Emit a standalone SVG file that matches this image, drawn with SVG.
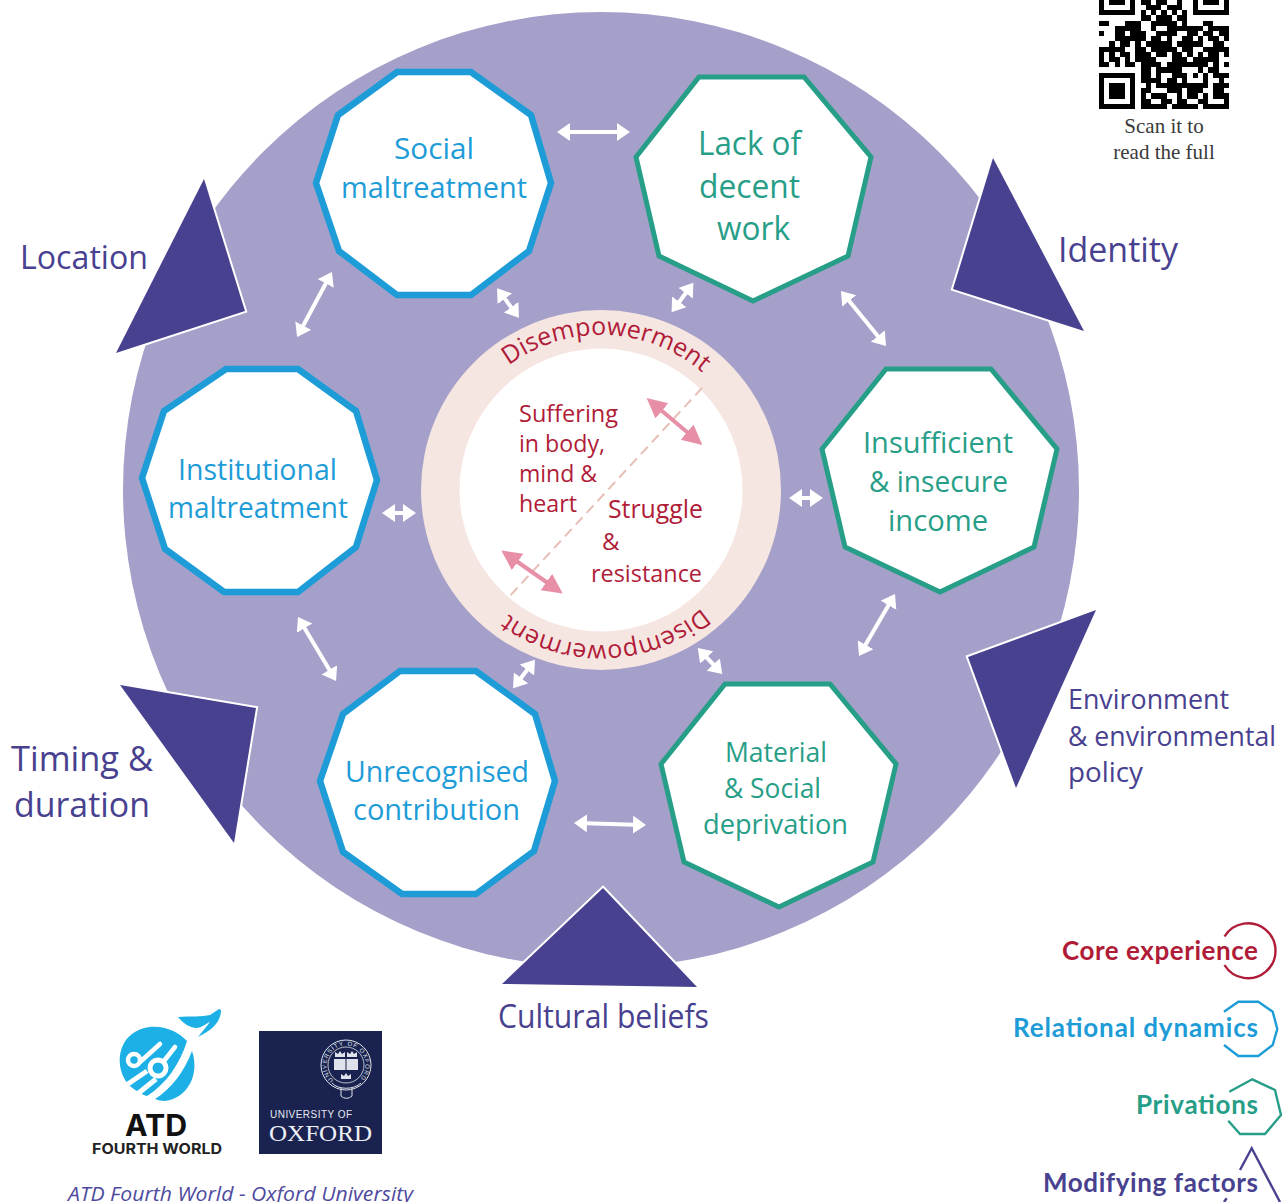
<svg xmlns="http://www.w3.org/2000/svg" width="1287" height="1202" viewBox="0 0 1287 1202">
<style>
text{font-family:"Open Sans","Noto Sans",sans-serif}
.soc{fill:#1e9cd8;font-size:30px}.grn{fill:#279e87}.pur{fill:#48418f}.red{fill:#b01c38}
.m{text-anchor:middle}
.dec{fill:#fff;stroke:#1e9cd8;stroke-width:6.5;stroke-linejoin:miter}
.hep{fill:#fff;stroke:#279e87;stroke-width:5;stroke-linejoin:miter}
.tri{fill:#48418f;stroke:#fff;stroke-width:4;paint-order:stroke}
.wa{fill:none;stroke:#fff;stroke-width:4;marker-start:url(#wh);marker-end:url(#wh)}
.pa{fill:none;stroke:#e88fa8;stroke-width:4;marker-start:url(#ph);marker-end:url(#ph)}
.leg{font-family:Lato,"Open Sans",sans-serif;font-weight:700;font-size:26px;text-anchor:end}
.leg.soc{font-size:26px}
.lo{fill:none;stroke-width:2.4}
</style>
<defs>
<marker id="wh" markerUnits="userSpaceOnUse" markerWidth="18" markerHeight="20" refX="9" refY="9" orient="auto-start-reverse"><path d="M0 0L13 9L0 18Z" fill="#fff"/></marker>
<marker id="ph" markerUnits="userSpaceOnUse" markerWidth="24" markerHeight="24" refX="13" refY="10" orient="auto-start-reverse"><path d="M0 0L20 10L0 20Z" fill="#e88fa8"/></marker>
<path id="t1" d="M508.800 365.400A155 155 0 0 1 728 401"/>
<path id="t2" d="M701.700 607.900A155 155 0 0 1 474 578.900"/>
<path id="crest" d="M333.500 1080A19.500 19.500 0 1 1 358.500 1080"/>
</defs>

<circle id="bg" cx="601" cy="490" r="478" fill="#a4a0c9"/>

<g id="modifiers">
<g id="location"><polygon class="tri" points="204,179 245,311 116,353"/><text class="pur" x="20" y="269" font-size="32" textLength="128" lengthAdjust="spacingAndGlyphs">Location</text></g>
<g id="identity"><polygon class="tri" points="993,158 1084,331 953,289"/><text class="pur" x="1058" y="262" font-size="34" textLength="120" lengthAdjust="spacingAndGlyphs">Identity</text></g>
<g id="environment"><polygon class="tri" points="1096,610 1016,788 968,657"/>
<text class="pur" x="1068" y="709" font-size="28" textLength="161" lengthAdjust="spacingAndGlyphs">Environment</text>
<text class="pur" x="1068" y="746" font-size="28" textLength="208" lengthAdjust="spacingAndGlyphs">&amp; environmental</text>
<text class="pur" x="1068" y="782" font-size="28" textLength="75" lengthAdjust="spacingAndGlyphs">policy</text></g>
<g id="timing"><polygon class="tri" points="120,685 256,708 234,843"/>
<text class="pur" x="11" y="771" font-size="35" textLength="142" lengthAdjust="spacingAndGlyphs">Timing &amp;</text>
<text class="pur" x="14" y="817" font-size="35" textLength="136" lengthAdjust="spacingAndGlyphs">duration</text></g>
<g id="cultural"><polygon class="tri" points="603,888 697,987 502,984"/><text class="pur" x="498" y="1028" font-size="32" textLength="211" lengthAdjust="spacingAndGlyphs">Cultural beliefs</text></g>
</g>

<g id="social"><polygon class="dec" points="397,72 471,72 531,115 551,183 529,251 471,295 397,295 339,251 316,183 338,115"/>
<text class="soc" x="394" y="159" textLength="80" lengthAdjust="spacingAndGlyphs">Social</text>
<text class="soc" x="341" y="198" textLength="186" lengthAdjust="spacingAndGlyphs">maltreatment</text></g>
<g id="institutional"><polygon class="dec" points="226,369 298,369 356,411 377,480 356,547 298,592 224,592 165,549 142,478 164,411"/>
<text class="soc" x="178" y="480" textLength="159" lengthAdjust="spacingAndGlyphs">Institutional</text>
<text class="soc" x="168" y="518" textLength="180" lengthAdjust="spacingAndGlyphs">maltreatment</text></g>
<g id="unrecognised"><polygon class="dec" points="400,671 476,671 535,714 555,781 534,851 476,894 402,894 343,852 320,781 343,714"/>
<text class="soc" x="345" y="782" textLength="184" lengthAdjust="spacingAndGlyphs">Unrecognised</text>
<text class="soc" x="353" y="820" textLength="167" lengthAdjust="spacingAndGlyphs">contribution</text></g>
<g id="lack"><polygon class="hep" points="699,77 804,77 871,157 848,256 753,301 659,256 636,157"/>
<text class="grn" x="698" y="155" font-size="33" textLength="103" lengthAdjust="spacingAndGlyphs">Lack of</text>
<text class="grn" x="699" y="198" font-size="33" textLength="101" lengthAdjust="spacingAndGlyphs">decent</text>
<text class="grn" x="717" y="240" font-size="33" textLength="73" lengthAdjust="spacingAndGlyphs">work</text></g>
<g id="insufficient"><polygon class="hep" points="886,369 991,369 1057,449 1034,547 940,592 845,547 822,449"/>
<text class="grn" x="863" y="453" font-size="30" textLength="150" lengthAdjust="spacingAndGlyphs">Insufficient</text>
<text class="grn" x="869" y="492" font-size="30" textLength="139" lengthAdjust="spacingAndGlyphs">&amp; insecure</text>
<text class="grn" x="888" y="531" font-size="30" textLength="100" lengthAdjust="spacingAndGlyphs">income</text></g>
<g id="material"><polygon class="hep" points="725,684 830,684 896,764 873,862 779,907 684,862 661,764"/>
<text class="grn" x="725" y="762" font-size="28" textLength="102" lengthAdjust="spacingAndGlyphs">Material</text>
<text class="grn" x="724" y="798" font-size="28" textLength="97" lengthAdjust="spacingAndGlyphs">&amp; Social</text>
<text class="grn" x="703" y="834" font-size="28" textLength="145" lengthAdjust="spacingAndGlyphs">deprivation</text></g>

<g id="core">
<circle cx="601" cy="490" r="180" fill="#f6e6e2"/>
<circle cx="601" cy="490" r="141.500" fill="#fff"/>
<text class="red" font-size="25"><textPath href="#t1">Disempowerment</textPath></text>
<text class="red" font-size="25"><textPath href="#t2">Disempowerment</textPath></text>
<text class="red" x="519" y="422" font-size="24" textLength="99" lengthAdjust="spacingAndGlyphs">Suffering</text>
<text class="red" x="519" y="452" font-size="24" textLength="86" lengthAdjust="spacingAndGlyphs">in body,</text>
<text class="red" x="519" y="482" font-size="24" textLength="78" lengthAdjust="spacingAndGlyphs">mind &amp;</text>
<text class="red" x="519" y="512" font-size="24" textLength="58" lengthAdjust="spacingAndGlyphs">heart</text>
<text class="red" x="608" y="518" font-size="25" textLength="95" lengthAdjust="spacingAndGlyphs">Struggle</text>
<text class="red" x="602" y="550" font-size="24">&amp;</text>
<text class="red" x="591" y="582" font-size="24" textLength="111" lengthAdjust="spacingAndGlyphs">resistance</text>
</g>

<g id="connectors">
<path d="M702 388L508 598" fill="none" stroke="#e6c0b6" stroke-width="2" stroke-dasharray="10 6"/>
<path class="pa" d="M652 402.500L697 440.500"/>
<path class="pa" d="M507 554.500L557 589.500"/>
<path class="wa" d="M561 132H626"/>
<path class="wa" d="M843.500 294L883.500 343"/>
<path class="wa" d="M793 498H819"/>
<path class="wa" d="M893 597.500L861 652.500"/>
<path class="wa" d="M642 825L578 823"/>
<path class="wa" d="M300 620.500L334 677.500"/>
<path class="wa" d="M412 513H386"/>
<path class="wa" d="M299 333.500L330 275.500"/>
<path class="wa" d="M499.500 291.500L516.500 314.500"/>
<path class="wa" d="M691 286L674 309"/>
<path class="wa" d="M719.500 671L700.500 651"/>
<path class="wa" d="M532.500 663L515.500 685"/>
</g>

<g id="qr">
<path transform="translate(1099 -.2) scale(5.2)" fill="none" stroke="#000" shape-rendering="crispEdges" d="M0 .5h1m1 0h3m1 0h1m1 0h2m1 0h2m2 0h1m2 0h1m1 0h3m1 0h1M0 1.500h1m5 0h1m2 0h3m1 0h3m2 0h1m5 0h1M0 2.500h7m1 0h1m1 0h1m1 0h1m1 0h1m1 0h1m1 0h7M8 3.500h2m1 0h3m1 0h2M0 4.500h2m3 0h3m2 0h5m1 0h1m3 0h2M3 5.500h5m2 0h1m2 0h7m1 0h4M0 6.500h1m2 0h2m1 0h3m2 0h4m2 0h2m1 0h2m1 0h2M3 7.500h6m1 0h2m1 0h1m2 0h2m1 0h1m1 0h2m1 0h1M2 8.500h1m1 0h2m1 0h1m1 0h5m1 0h5m2 0h2M0 9.500h5m2 0h2m1 0h5m1 0h2m2 0h5M0 10.500h1m1 0h1m1 0h2m1 0h3m1 0h2m1 0h2m1 0h1m1 0h1m1 0h2m1 0h1M0 11.500h1m1 0h2m1 0h1m1 0h4m3 0h3m1 0h5M0 12.500h2m1 0h1m1 0h2m1 0h4m1 0h8m1 0h1m1 0h1M8 13.500h2m1 0h5m3 0h1m1 0h2M0 14.500h7m1 0h2m1 0h1m2 0h3m1 0h1m1 0h1m1 0h3M0 15.500h1m5 0h1m1 0h4m1 0h2m1 0h1m3 0h1m2 0h1M0 16.500h1m1 0h3m1 0h1m2 0h1m1 0h10m1 0h3M0 17.500h1m1 0h3m1 0h1m1 0h2m3 0h3m1 0h3m2 0h2M0 18.500h1m1 0h3m1 0h1m1 0h1m1 0h3m2 0h1m1 0h2m1 0h1m1 0h3M0 19.500h1m5 0h1m1 0h2m2 0h2m1 0h2m2 0h2m3 0h1M0 20.500h7m1 0h5m1 0h5m1 0h5"/>
<text text-anchor="middle" fill="#3a3a3a" style="font-family:'Liberation Serif',serif;font-size:21px"><tspan x="1164" y="133">Scan it to</tspan><tspan x="1164" y="159">read the full</tspan></text>
</g>

<g id="legend">
<g id="leg-core"><path class="lo" stroke="#b01c38" d="M1224.500 936.500A27.500 27.500 0 1 1 1224.500 965"/><text class="leg red" x="1258" y="960" textLength="196">Core experience</text></g>
<g id="leg-rel"><path class="lo" stroke="#1e9cd8" d="M1224 1011.700L1238.300 1001.700H1258.300L1272.700 1011.700L1277.300 1029L1272.700 1045L1258.300 1056H1238.300L1224 1045"/><text class="leg soc" x="1258" y="1037" textLength="245">Relational dynamics</text></g>
<g id="leg-pri"><path class="lo" stroke="#279e87" d="M1229.300 1091.700L1252.300 1079.300L1275 1090L1281 1115L1265 1134H1240L1228.300 1120.700"/><text class="leg grn" x="1258" y="1114" textLength="122">Privations</text></g>
<g id="leg-mod"><path class="lo" stroke="#48418f" d="M1240 1170L1251.700 1148.300L1280 1202M1226.700 1198.300L1224 1202"/><text class="leg pur" x="1258" y="1192" textLength="215">Modifying factors</text></g>
</g>

<g id="atd">
<path fill="#1db0e6" d="M187 1041C176 1028 150 1020 132 1034C116 1046 116 1072 130 1086L135 1090C140 1092 144 1096 147 1096C166 1084 180 1064 187 1041Z"/>
<path fill="#1db0e6" d="M192 1051C200 1074 188 1098 165 1101C161 1101 158 1100 155 1099C172 1088 184 1072 192 1051Z"/>
<path fill="#1db0e6" d="M178 1017C190 1016 202 1017 210 1015L219 1009L221 1010C221 1022 212 1030 198 1037L210 1022C204 1025 200 1028 197 1028C190 1028 184 1024 178 1017Z"/>
<g fill="none" stroke="#fff">
<circle cx="134" cy="1060" r="6" stroke-width="4.500"/><circle cx="158" cy="1068" r="8" stroke-width="5"/>
<path stroke-width="4.500" stroke-linecap="round" d="M140 1062L160 1044M164 1061L175 1047"/>
<path stroke-width="5" d="M125 1086L147 1071M135 1096L156 1079"/>
</g>
<text x="156" y="1136" text-anchor="middle" font-size="30" font-weight="700" fill="#111" textLength="62" lengthAdjust="spacingAndGlyphs" style="font-family:Inter,sans-serif">ATD</text>
<text x="157" y="1154" text-anchor="middle" font-size="14.500" font-weight="700" fill="#222" textLength="130" lengthAdjust="spacingAndGlyphs" style="font-family:Inter,sans-serif">FOURTH WORLD</text>
</g>

<g id="oxford">
<rect x="259" y="1031" width="123" height="123" fill="#1a2350"/>
<circle cx="346" cy="1065" r="25" fill="none" stroke="#dfe2ea" stroke-width="1"/>
<circle cx="346" cy="1065" r="18" fill="none" stroke="#dfe2ea" stroke-width=".8"/>
<text font-size="6" fill="#dfe2ea" textLength="92" style="font-family:'Liberation Sans',sans-serif"><textPath href="#crest">UNIVERSITY OF OXFORD</textPath></text>
<rect x="334" y="1059" width="24" height="11" fill="#dfe2ea"/><path d="M346 1059V1070" stroke="#1a2350"/>
<path fill="#dfe2ea" d="M335 1057V1052L338 1054L340 1051L342 1054L345 1052V1057ZM347 1057V1052L350 1054L352 1051L354 1054L357 1052V1057ZM341 1079V1074L344 1076L346 1073L348 1076L351 1074V1079Z"/>
<path fill="none" stroke="#dfe2ea" d="M332 1083C338 1090 354 1090 361 1083M341 1088V1096C344 1099 349 1099 352 1096V1088"/>
<text x="270" y="1118" font-size="10" fill="#e6e8ef" textLength="82" style="font-family:'Liberation Sans',sans-serif">UNIVERSITY OF</text>
<text x="269" y="1141" font-size="23" fill="#eef0f5" textLength="103" lengthAdjust="spacingAndGlyphs" style="font-family:'Liberation Serif',serif">OXFORD</text>
</g>

<text id="credit" x="68" y="1201" font-size="20" font-style="italic" fill="#4e4a9e" textLength="345" lengthAdjust="spacingAndGlyphs">ATD Fourth World - Oxford  University</text>
</svg>
